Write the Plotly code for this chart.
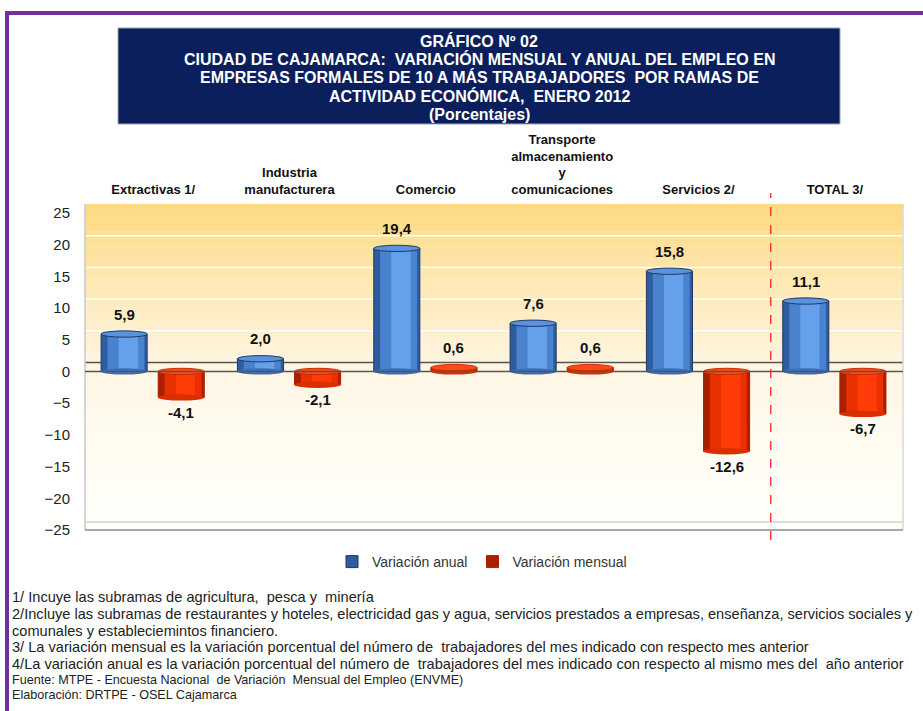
import plotly.graph_objects as go

# ---------------- data ----------------
categories = ["Extractivas 1/", "Industria<br>manufacturera", "Comercio",
              "Transporte<br>almacenamiento<br>y<br>comunicaciones", "Servicios 2/", "TOTAL 3/"]
variacion_anual = [5.9, 2.0, 19.4, 7.6, 15.8, 11.1]
variacion_mensual = [-4.1, -2.1, 0.6, 0.6, -12.6, -6.7]
y_ticks = [-25, -20, -15, -10, -5, 0, 5, 10, 15, 20, 25]
series_names = ["Variación anual", "Variación mensual"]

title_lines = ["GRÁFICO Nº 02",
               "CIUDAD DE CAJAMARCA:  VARIACIÓN MENSUAL Y ANUAL DEL EMPLEO EN",
               "EMPRESAS FORMALES DE 10 A MÁS TRABAJADORES  POR RAMAS DE",
               "ACTIVIDAD ECONÓMICA,  ENERO 2012",
               "(Porcentajes)"]
notes_big = ["1/ Incuye las subramas de agricultura,  pesca y  minería",
             "2/Incluye las subramas de restaurantes y hoteles, electricidad gas y agua, servicios prestados a empresas, enseñanza, servicios sociales y",
             "comunales y estableciemintos financiero.",
             "3/ La variación mensual es la variación porcentual del número de  trabajadores del mes indicado con respecto mes anterior",
             "4/La variación anual es la variación porcentual del número de  trabajadores del mes indicado con respecto al mismo mes del  año anterior"]
notes_small = ["Fuente: MTPE - Encuesta Nacional  de Variación  Mensual del Empleo (ENVME)",
               "Elaboración: DRTPE - OSEL Cajamarca"]

# ---------------- geometry / style ----------------
W, H = 923, 711
ML, MR, MT, MB = 85, 20, 204, 181
PW, PH = W - ML - MR, H - MT - MB
Y_LO, Y_HI = -25, 26.4
BACK = 1.4  # back-wall shift (3D look)

def px_x(p):
    return (p - ML) / PW

def px_y(p):
    return (H - MB - p) / PH

NARROW = "Liberation Sans Narrow, Arial Narrow, Liberation Sans, Arial, sans-serif"
SANS = "Liberation Sans, Arial, sans-serif"

bw = 0.338
off_blue = -0.213 - bw / 2
off_red = 0.206 - bw / 2
xs = list(range(len(categories)))

fig = go.Figure()

def add_cyl(values, off, colors, name, line_col):
    base, mid, hi = colors
    fig.add_trace(go.Bar(x=xs, y=values, base=0, offset=off, width=bw, name=name,
                         marker=dict(color=base, line=dict(color=line_col, width=1)),
                         showlegend=True, hoverinfo="y"))
    fig.add_trace(go.Bar(x=xs, y=values, offset=off + bw * 0.14, width=bw * 0.80,
                         marker=dict(color=mid, line=dict(width=0)), showlegend=False, hoverinfo="skip"))
    fig.add_trace(go.Bar(x=xs, y=values, offset=off + bw * 0.38, width=bw * 0.42,
                         marker=dict(color=hi, line=dict(width=0)), showlegend=False, hoverinfo="skip"))

add_cyl(variacion_anual, off_blue, ("#2d5d9f", "#4a82cf", "#65a0ea"), series_names[0], "#1d3a66")
add_cyl(variacion_mensual, off_red, ("#a82000", "#e83000", "#ff3c08"), series_names[1], "#a82000")

shapes = []
# gradient background (back wall)
stops = [(26.4, (253, 216, 128)), (20, (253, 225, 155)), (10, (254, 236, 195)),
         (0, (255, 246, 228)), (-10, (255, 251, 240)), (-25, (255, 254, 250))]

def col_at(v):
    for (v0, c0), (v1, c1) in zip(stops[:-1], stops[1:]):
        if v1 <= v <= v0:
            t = (v0 - v) / (v0 - v1)
            return "rgb(%d,%d,%d)" % tuple(round(a + (b - a) * t) for a, b in zip(c0, c1))
    return "rgb(255,255,255)"

N = 60
step = (Y_HI - Y_LO) / N
for i in range(N):
    y1 = Y_HI - i * step
    y0 = y1 - step
    shapes.append(dict(type="rect", xref="paper", yref="y", x0=0, x1=1, y0=max(y0 - 0.05, Y_LO), y1=y1,
                       fillcolor=col_at((y0 + y1) / 2), line=dict(width=0), layer="below"))
# back gridlines
for v in [5, 10, 15, 20]:
    shapes.append(dict(type="line", xref="paper", yref="y", x0=0, x1=1, y0=v + BACK, y1=v + BACK,
                       line=dict(color="white", width=1.5), layer="below"))
shapes.append(dict(type="line", xref="paper", yref="y", x0=0, x1=1, y0=BACK, y1=BACK,
                   line=dict(color="#555555", width=1.5), layer="below"))
# wall edges and floor
shapes.append(dict(type="line", xref="paper", yref="paper", x0=0, x1=0, y0=0, y1=1,
                   line=dict(color="#c8c8c8", width=1.5)))
shapes.append(dict(type="line", xref="paper", yref="paper", x0=1, x1=1, y0=0, y1=1,
                   line=dict(color="#d8d8d8", width=1.5)))
shapes.append(dict(type="line", xref="paper", yref="paper", x0=0, x1=1, y0=px_y(522), y1=px_y(522),
                   line=dict(color="#d0d0d0", width=1.5)))
shapes.append(dict(type="line", xref="paper", yref="paper", x0=0, x1=1, y0=px_y(530), y1=px_y(530),
                   line=dict(color="#8a8a8a", width=1.5)))

# cylinder caps
def caps(values, off, top_col, line_col, bot_col):
    for x, v in zip(xs, values):
        hi_v, lo_v = max(v, 0), min(v, 0)
        shapes.append(dict(type="circle", xref="x", yref="y", x0=x + off, x1=x + off + bw,
                           y0=lo_v - 0.5, y1=lo_v + 0.5, fillcolor=bot_col, line=dict(width=0), layer="above"))
        shapes.append(dict(type="circle", xref="x", yref="y", x0=x + off, x1=x + off + bw,
                           y0=hi_v - 0.5, y1=hi_v + 0.5, fillcolor=top_col,
                           line=dict(color=line_col, width=1), layer="above"))

caps(variacion_anual, off_blue, "#5b92dc", "#1d3a66", "#3b6fb8")
caps(variacion_mensual, off_red, "#ff4a14", "#d02a00", "#d83000")

# front zero line
shapes.append(dict(type="line", xref="paper", yref="y", x0=0, x1=1, y0=0, y1=0,
                   line=dict(color="#555555", width=1.5), layer="above"))
# separator before TOTAL
shapes.append(dict(type="line", xref="x", yref="paper", x0=4.53, x1=4.53, y0=px_y(540), y1=px_y(193),
                   line=dict(color="#ff2020", width=1.3, dash="dash")))
# purple frame
shapes.append(dict(type="rect", xref="paper", yref="paper", x0=px_x(5), x1=px_x(W + 5),
                   y0=px_y(15), y1=px_y(11), fillcolor="#7030a0", line=dict(width=0)))
shapes.append(dict(type="rect", xref="paper", yref="paper", x0=px_x(5), x1=px_x(9),
                   y0=px_y(H + 5), y1=px_y(11), fillcolor="#7030a0", line=dict(width=0)))
# title box
shapes.append(dict(type="rect", xref="paper", yref="paper", x0=px_x(118), x1=px_x(840),
                   y0=px_y(124), y1=px_y(28), fillcolor="#0b1f5c", line=dict(color="#9aa4c0", width=1)))

annotations = []
# value labels
def fmt(v):
    return ("%.1f" % v).replace(".", ",")

for vals, off in [(variacion_anual, off_blue), (variacion_mensual, off_red)]:
    for x, v in zip(xs, vals):
        annotations.append(dict(x=x + off + bw / 2, y=v, xref="x", yref="y", text="<b>%s</b>" % fmt(v),
                                showarrow=False, yanchor="middle", yshift=20 if v >= 0 else -15,
                                font=dict(family=SANS, size=15, color="#111111")))
# title lines
for t, yy in zip(title_lines, [41, 59, 77.5, 96, 114]):
    annotations.append(dict(x=px_x(479), y=px_y(yy), xref="paper", yref="paper",
                            text="<b>%s</b>" % t, showarrow=False,
                            xanchor="center", yanchor="middle",
                            font=dict(family=NARROW, size=16, color="white")))
# footnotes
ys_big = [597, 614, 631, 647, 664]
for t, yy in zip(notes_big, ys_big):
    annotations.append(dict(x=px_x(10), y=px_y(yy), xref="paper", yref="paper", text=t, showarrow=False,
                            xanchor="left", yanchor="middle", align="left",
                            font=dict(family=NARROW, size=14.6, color="#222222")))
for t, yy in zip(notes_small, [680, 695]):
    annotations.append(dict(x=px_x(10), y=px_y(yy), xref="paper", yref="paper", text=t, showarrow=False,
                            xanchor="left", yanchor="middle", align="left",
                            font=dict(family=NARROW, size=12.6, color="#222222")))

fig.update_layout(
    width=W, height=H,
    margin=dict(l=ML, r=MR, t=MT, b=MB),
    paper_bgcolor="white", plot_bgcolor="white",
    barmode="overlay", separators=",.",
    shapes=shapes, annotations=annotations,
    showlegend=True,
    legend=dict(orientation="h", x=px_x(482), y=px_y(562), xanchor="center", yanchor="middle",
                font=dict(family=NARROW, size=14, color="#333333"), traceorder="normal",
                itemwidth=30, bgcolor="rgba(0,0,0,0)"),
    xaxis=dict(range=[-0.5, 5.5], tickvals=xs, ticktext=["<b>%s</b>" % c for c in categories],
               side="top", showgrid=False, zeroline=False, showline=False, ticks="",
               tickfont=dict(family=SANS, size=13, color="#111111"), ticklabelstandoff=6, fixedrange=True),
    yaxis=dict(range=[Y_LO, Y_HI], tickvals=y_ticks, showgrid=False, zeroline=False, showline=False,
               ticks="", tickfont=dict(family=SANS, size=15, color="#222222"), ticklabelstandoff=14,
               fixedrange=True),
)

fig.write_html("out.html", config={"displayModeBar": False},
               post_script="document.body.style.margin='0';document.body.style.padding='0';")
